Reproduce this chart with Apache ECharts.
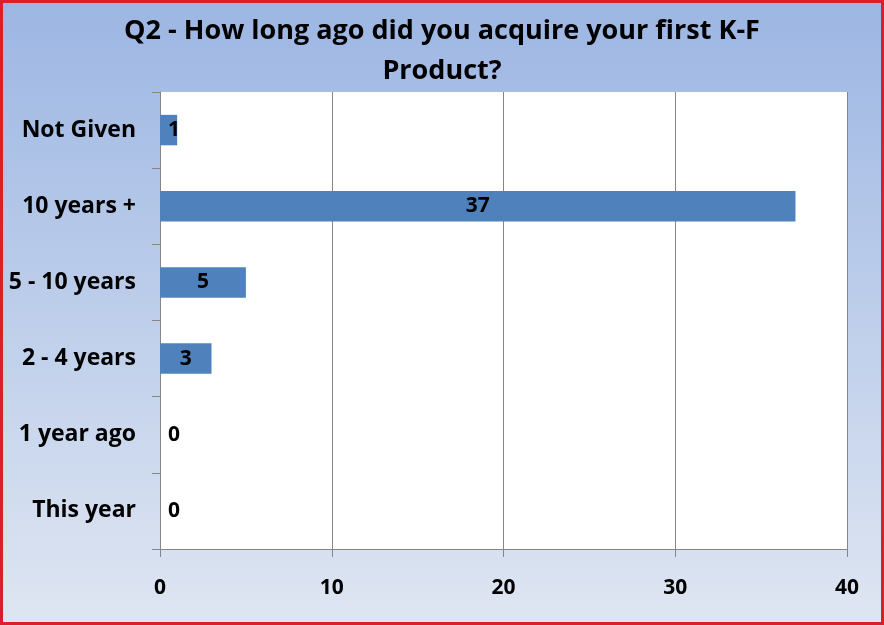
<!DOCTYPE html>
<html><head><meta charset="utf-8">
<script src="https://cdn.jsdelivr.net/npm/echarts@6/dist/echarts.min.js"></script>
<style>html,body{margin:0;padding:0;background:#fff;}#c{width:884px;height:625px;}</style>
</head><body><div id="c"></div>
<script>
const titleText = 'Q2 - How long ago did you acquire your first K-F\nProduct?';
const categories = ['This year', '1 year ago', '2 - 4 years', '5 - 10 years', '10 years +', 'Not Given'];
const values = [0, 0, 3, 5, 37, 1];
const xMin = 0, xMax = 40, xStep = 10;

const FONT = '"Open Sans", "Noto Sans", sans-serif';
const seriesData = values.map(v => v < 2
  ? { value: v, label: { position: 'insideLeft', distance: 8 } }
  : { value: v });

const chart = echarts.init(document.getElementById('c'));
chart.setOption({
  animation: false,
  backgroundColor: {
    type: 'linear', x: 0, y: 0, x2: 0, y2: 1,
    colorStops: [{ offset: 0, color: '#9cb6e3' }, { offset: 1, color: '#dfe6f2' }]
  },
  title: {
    text: titleText,
    left: 'center', top: 6,
    textStyle: { fontFamily: FONT, fontWeight: 'bold', fontSize: 27, color: '#000', lineHeight: 40 }
  },
  graphic: [{
    type: 'rect', silent: true, z: 100,
    shape: { x: 1.5, y: 1.5, width: 881, height: 622 },
    style: { fill: 'none', stroke: '#d9202a', lineWidth: 3 }
  }],
  grid: { left: 160, right: 37, top: 92, bottom: 76, show: true, backgroundColor: '#fff', borderWidth: 0 },
  xAxis: {
    type: 'value', min: xMin, max: xMax, interval: xStep,
    axisLine: { show: true, lineStyle: { color: '#868686', width: 1 } },
    axisTick: { show: true, length: 8, lineStyle: { color: '#868686' } },
    splitLine: { show: true, lineStyle: { color: '#868686', width: 1 } },
    axisLabel: { margin: 29, fontFamily: FONT, fontWeight: 'bold', fontSize: 21, color: '#000' }
  },
  yAxis: {
    type: 'category', data: categories,
    axisLine: { show: true, lineStyle: { color: '#868686', width: 1 } },
    axisTick: { show: true, length: 8, lineStyle: { color: '#868686' } },
    axisLabel: { margin: 24, fontFamily: FONT, fontWeight: 'bold', fontSize: 23, color: '#000' }
  },
  series: [{
    type: 'bar', data: seriesData, barCategoryGap: '60%',
    itemStyle: { color: '#4f81bd' },
    label: { show: true, position: 'inside', fontFamily: FONT, fontWeight: 'bold', fontSize: 21, color: '#000' }
  }]
});
</script></body></html>
